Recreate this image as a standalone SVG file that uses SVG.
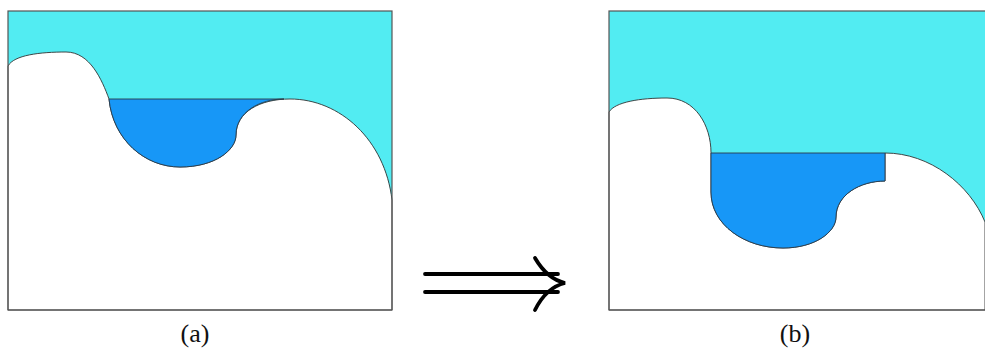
<svg xmlns="http://www.w3.org/2000/svg" width="985" height="348" viewBox="0 0 985 348">
<style>
.sky{fill:#52ECF2;stroke:none}
.ground{fill:#ffffff;stroke:#333;stroke-width:0.9}
.water{fill:#1797F7;stroke:#2a3a4a;stroke-width:0.9}
.frame{fill:none;stroke:#555;stroke-width:1.2}
.arr{fill:none;stroke:#000;stroke-width:3.8;stroke-linecap:round}
.lbl{font-family:"Liberation Serif","DejaVu Serif",serif;font-size:26px;fill:#111;text-anchor:middle}
</style>
<rect width="985" height="348" fill="#fff"/>
<g id="panel-a">
<rect class="sky" x="8" y="11" width="384" height="299"/>
<path class="ground" d="M8,66 C14,55 40,52 66,52 C90,52 102,80 109,99 C113,140 145,167 180,167 C215,167 236,150 236,135 C236,112 260,99 290,99 C340,99 385,140 392,200 V310 H8 Z"/>
<path class="water" d="M109,99 H284 C260,99 236,112 236,135 C236,150 215,167 180,167 C145,167 113,140 109,99 Z"/>
<rect class="frame" x="8" y="11" width="384" height="299"/>
<text class="lbl" x="195" y="342">(a)</text>
</g>
<g id="panel-b">
<rect class="sky" x="609" y="11" width="380" height="299"/>
<path class="ground" d="M609,112 C615,102 640,98 667,98 C695,98 711,125 711,153 V192 C711,225 745,248 783,248 C815,248 836,232 836,217 C836,195 860,181 885,181 V153 C930,153 970,185 985,222 V310 H609 Z"/>
<path class="water" d="M711,153 H885 V181 C860,181 836,195 836,217 C836,232 815,248 783,248 C745,248 711,225 711,192 Z"/>
<rect class="frame" x="609" y="11" width="390" height="299"/>
<text class="lbl" x="795" y="342">(b)</text>
</g>
<g id="connectors">
<line class="arr" x1="425" y1="274" x2="558" y2="274"/>
<line class="arr" x1="425" y1="292" x2="558" y2="292"/>
<path class="arr" d="M535,258 C542,270 552,280 565,283 C552,286 542,296 535,310"/>
</g>
</svg>
